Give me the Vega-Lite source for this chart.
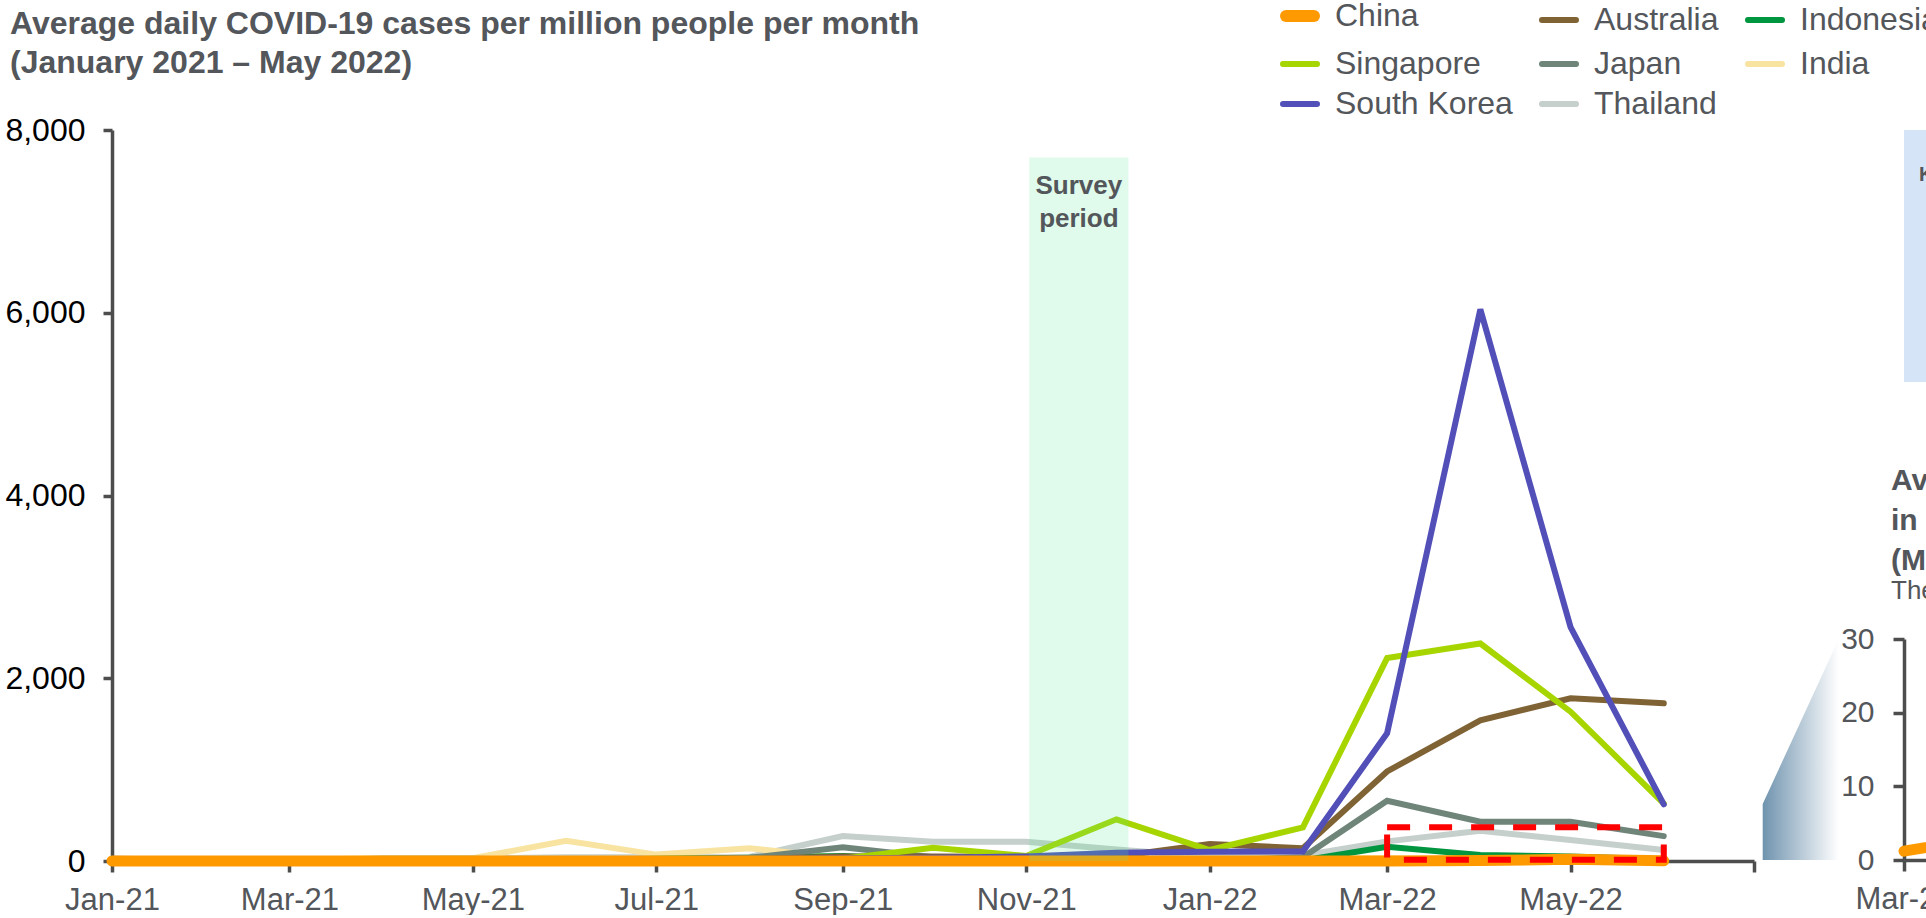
{
  "$schema": "https://vega.github.io/schema/vega-lite/v6.json",
  "background": "white",
  "padding": {"left": 4, "top": 0, "right": 0, "bottom": 0},
  "config": {
    "font": "Liberation Sans",
    "view": {"stroke": null},
    "axis": {"grid": false, "domainColor": "#4d4d4d", "tickColor": "#4d4d4d", "domainWidth": 3.5, "tickWidth": 3.5, "labelFont": "Liberation Sans", "title": null}
  },
  "datasets": {
    "cases": [
      {"country": "Thailand", "month": "2021-01-01", "cases": 5}, {"country": "Thailand", "month": "2021-02-01", "cases": 3}, {"country": "Thailand", "month": "2021-03-01", "cases": 3}, {"country": "Thailand", "month": "2021-04-01", "cases": 10}, {"country": "Thailand", "month": "2021-05-01", "cases": 30}, {"country": "Thailand", "month": "2021-06-01", "cases": 40}, {"country": "Thailand", "month": "2021-07-01", "cases": 40}, {"country": "Thailand", "month": "2021-08-01", "cases": 45}, {"country": "Thailand", "month": "2021-09-01", "cases": 273}, {"country": "Thailand", "month": "2021-10-01", "cases": 211}, {"country": "Thailand", "month": "2021-11-01", "cases": 211}, {"country": "Thailand", "month": "2021-12-01", "cases": 125}, {"country": "Thailand", "month": "2022-01-01", "cases": 50}, {"country": "Thailand", "month": "2022-02-01", "cases": 60}, {"country": "Thailand", "month": "2022-03-01", "cases": 215}, {"country": "Thailand", "month": "2022-04-01", "cases": 330}, {"country": "Thailand", "month": "2022-05-01", "cases": 230}, {"country": "Thailand", "month": "2022-06-01", "cases": 120},
      {"country": "India", "month": "2021-01-01", "cases": 10}, {"country": "India", "month": "2021-02-01", "cases": 10}, {"country": "India", "month": "2021-03-01", "cases": 15}, {"country": "India", "month": "2021-04-01", "cases": 30}, {"country": "India", "month": "2021-05-01", "cases": 30}, {"country": "India", "month": "2021-06-01", "cases": 220}, {"country": "India", "month": "2021-07-01", "cases": 70}, {"country": "India", "month": "2021-08-01", "cases": 139}, {"country": "India", "month": "2021-09-01", "cases": 30}, {"country": "India", "month": "2021-10-01", "cases": 15}, {"country": "India", "month": "2021-11-01", "cases": 10}, {"country": "India", "month": "2021-12-01", "cases": 8}, {"country": "India", "month": "2022-01-01", "cases": 10}, {"country": "India", "month": "2022-02-01", "cases": 30}, {"country": "India", "month": "2022-03-01", "cases": 30}, {"country": "India", "month": "2022-04-01", "cases": 5}, {"country": "India", "month": "2022-05-01", "cases": 2}, {"country": "India", "month": "2022-06-01", "cases": 2},
      {"country": "Indonesia", "month": "2021-01-01", "cases": 15}, {"country": "Indonesia", "month": "2021-02-01", "cases": 15}, {"country": "Indonesia", "month": "2021-03-01", "cases": 10}, {"country": "Indonesia", "month": "2021-04-01", "cases": 10}, {"country": "Indonesia", "month": "2021-05-01", "cases": 10}, {"country": "Indonesia", "month": "2021-06-01", "cases": 15}, {"country": "Indonesia", "month": "2021-07-01", "cases": 25}, {"country": "Indonesia", "month": "2021-08-01", "cases": 35}, {"country": "Indonesia", "month": "2021-09-01", "cases": 55}, {"country": "Indonesia", "month": "2021-10-01", "cases": 10}, {"country": "Indonesia", "month": "2021-11-01", "cases": 5}, {"country": "Indonesia", "month": "2021-12-01", "cases": 3}, {"country": "Indonesia", "month": "2022-01-01", "cases": 3}, {"country": "Indonesia", "month": "2022-02-01", "cases": 5}, {"country": "Indonesia", "month": "2022-03-01", "cases": 156}, {"country": "Indonesia", "month": "2022-04-01", "cases": 65}, {"country": "Indonesia", "month": "2022-05-01", "cases": 50}, {"country": "Indonesia", "month": "2022-06-01", "cases": 20},
      {"country": "Japan", "month": "2021-01-01", "cases": 25}, {"country": "Japan", "month": "2021-02-01", "cases": 15}, {"country": "Japan", "month": "2021-03-01", "cases": 10}, {"country": "Japan", "month": "2021-04-01", "cases": 25}, {"country": "Japan", "month": "2021-05-01", "cases": 25}, {"country": "Japan", "month": "2021-06-01", "cases": 10}, {"country": "Japan", "month": "2021-07-01", "cases": 15}, {"country": "Japan", "month": "2021-08-01", "cases": 35}, {"country": "Japan", "month": "2021-09-01", "cases": 150}, {"country": "Japan", "month": "2021-10-01", "cases": 40}, {"country": "Japan", "month": "2021-11-01", "cases": 10}, {"country": "Japan", "month": "2021-12-01", "cases": 2}, {"country": "Japan", "month": "2022-01-01", "cases": 2}, {"country": "Japan", "month": "2022-02-01", "cases": 40}, {"country": "Japan", "month": "2022-03-01", "cases": 659}, {"country": "Japan", "month": "2022-04-01", "cases": 430}, {"country": "Japan", "month": "2022-05-01", "cases": 430}, {"country": "Japan", "month": "2022-06-01", "cases": 272},
      {"country": "Australia", "month": "2021-01-01", "cases": 2}, {"country": "Australia", "month": "2021-02-01", "cases": 1}, {"country": "Australia", "month": "2021-03-01", "cases": 1}, {"country": "Australia", "month": "2021-04-01", "cases": 1}, {"country": "Australia", "month": "2021-05-01", "cases": 1}, {"country": "Australia", "month": "2021-06-01", "cases": 2}, {"country": "Australia", "month": "2021-07-01", "cases": 5}, {"country": "Australia", "month": "2021-08-01", "cases": 20}, {"country": "Australia", "month": "2021-09-01", "cases": 50}, {"country": "Australia", "month": "2021-10-01", "cases": 50}, {"country": "Australia", "month": "2021-11-01", "cases": 45}, {"country": "Australia", "month": "2021-12-01", "cases": 50}, {"country": "Australia", "month": "2022-01-01", "cases": 186}, {"country": "Australia", "month": "2022-02-01", "cases": 139}, {"country": "Australia", "month": "2022-03-01", "cases": 980}, {"country": "Australia", "month": "2022-04-01", "cases": 1540}, {"country": "Australia", "month": "2022-05-01", "cases": 1780}, {"country": "Australia", "month": "2022-06-01", "cases": 1726},
      {"country": "Singapore", "month": "2021-01-01", "cases": 5}, {"country": "Singapore", "month": "2021-02-01", "cases": 2}, {"country": "Singapore", "month": "2021-03-01", "cases": 1}, {"country": "Singapore", "month": "2021-04-01", "cases": 2}, {"country": "Singapore", "month": "2021-05-01", "cases": 3}, {"country": "Singapore", "month": "2021-06-01", "cases": 1}, {"country": "Singapore", "month": "2021-07-01", "cases": 5}, {"country": "Singapore", "month": "2021-08-01", "cases": 10}, {"country": "Singapore", "month": "2021-09-01", "cases": 25}, {"country": "Singapore", "month": "2021-10-01", "cases": 145}, {"country": "Singapore", "month": "2021-11-01", "cases": 55}, {"country": "Singapore", "month": "2021-12-01", "cases": 456}, {"country": "Singapore", "month": "2022-01-01", "cases": 120}, {"country": "Singapore", "month": "2022-02-01", "cases": 368}, {"country": "Singapore", "month": "2022-03-01", "cases": 2221}, {"country": "Singapore", "month": "2022-04-01", "cases": 2380}, {"country": "Singapore", "month": "2022-05-01", "cases": 1634}, {"country": "Singapore", "month": "2022-06-01", "cases": 629},
      {"country": "South Korea", "month": "2021-01-01", "cases": 5}, {"country": "South Korea", "month": "2021-02-01", "cases": 5}, {"country": "South Korea", "month": "2021-03-01", "cases": 5}, {"country": "South Korea", "month": "2021-04-01", "cases": 5}, {"country": "South Korea", "month": "2021-05-01", "cases": 5}, {"country": "South Korea", "month": "2021-06-01", "cases": 5}, {"country": "South Korea", "month": "2021-07-01", "cases": 10}, {"country": "South Korea", "month": "2021-08-01", "cases": 20}, {"country": "South Korea", "month": "2021-09-01", "cases": 30}, {"country": "South Korea", "month": "2021-10-01", "cases": 35}, {"country": "South Korea", "month": "2021-11-01", "cases": 50}, {"country": "South Korea", "month": "2021-12-01", "cases": 90}, {"country": "South Korea", "month": "2022-01-01", "cases": 100}, {"country": "South Korea", "month": "2022-02-01", "cases": 105}, {"country": "South Korea", "month": "2022-03-01", "cases": 1398}, {"country": "South Korea", "month": "2022-04-01", "cases": 6037}, {"country": "South Korea", "month": "2022-05-01", "cases": 2560}, {"country": "South Korea", "month": "2022-06-01", "cases": 620},
      {"country": "China", "month": "2021-01-01", "cases": 0.2}, {"country": "China", "month": "2021-02-01", "cases": 0.1}, {"country": "China", "month": "2021-03-01", "cases": 0}, {"country": "China", "month": "2021-04-01", "cases": 0}, {"country": "China", "month": "2021-05-01", "cases": 0}, {"country": "China", "month": "2021-06-01", "cases": 0}, {"country": "China", "month": "2021-07-01", "cases": 0}, {"country": "China", "month": "2021-08-01", "cases": 0.1}, {"country": "China", "month": "2021-09-01", "cases": 0.1}, {"country": "China", "month": "2021-10-01", "cases": 0}, {"country": "China", "month": "2021-11-01", "cases": 0.1}, {"country": "China", "month": "2021-12-01", "cases": 0.1}, {"country": "China", "month": "2022-01-01", "cases": 0.1}, {"country": "China", "month": "2022-02-01", "cases": 0.1}, {"country": "China", "month": "2022-03-01", "cases": 1.2}, {"country": "China", "month": "2022-04-01", "cases": 5}, {"country": "China", "month": "2022-05-01", "cases": 18}, {"country": "China", "month": "2022-06-01", "cases": 3}
    ],
    "survey": [{"label": "Survey period", "start": "2021-11-02", "end": "2021-12-05"}],
    "zoombox": [{"region": "China detail", "start": "2022-03-01", "end": "2022-06-01"}],
    "connector": [{"date": "2022-02-03", "upper": 7.6, "lower": 0}, {"date": "2022-02-17", "upper": 30, "lower": 0}],
    "note": [{"text": "Key takeaway"}]
  },
  "bounds": "flush",
  "spacing": 150,
  "hconcat": [
    {
      "width": 1642,
      "height": 731,
      "title": {"text": ["Average daily COVID-19 cases per million people per month", "(January 2021 – May 2022)"], "anchor": "start", "frame": "group", "dx": -102, "fontSize": 32, "fontWeight": "bold", "color": "#53565a", "lineHeight": 39, "offset": 34, "font": "Liberation Sans"},
      "layer": [
        {
          "data": {"name": "cases"},
          "transform": [{"filter": "datum.country !== 'China'"}],
          "mark": {"type": "line", "strokeWidth": 6, "strokeCap": "round"},
          "encoding": {
            "x": {"field": "month", "type": "temporal",
              "scale": {"type": "utc", "domain": [{"year": 2021, "month": 1, "date": 1, "utc": true}, {"year": 2022, "month": 7, "date": 1, "utc": true}]},
              "axis": {"values": [{"year": 2021, "month": 1, "date": 1, "utc": true}, {"year": 2021, "month": 3, "date": 1, "utc": true}, {"year": 2021, "month": 5, "date": 1, "utc": true}, {"year": 2021, "month": 7, "date": 1, "utc": true}, {"year": 2021, "month": 9, "date": 1, "utc": true}, {"year": 2021, "month": 11, "date": 1, "utc": true}, {"year": 2022, "month": 1, "date": 1, "utc": true}, {"year": 2022, "month": 3, "date": 1, "utc": true}, {"year": 2022, "month": 5, "date": 1, "utc": true}, {"year": 2022, "month": 7, "date": 1, "utc": true}],
                "labelExpr": "datum.value >= utc(2022, 5, 15) ? '' : utcFormat(datum.value, '%b-%y')",
                "labelFontSize": 31, "labelColor": "#53565a", "tickSize": 11, "labelPadding": 13, "labelFlush": false, "labelOverlap": false}
            },
            "y": {"field": "cases", "type": "quantitative", "scale": {"domain": [0, 8000], "nice": false},
              "axis": {"values": [0, 2000, 4000, 6000, 8000], "format": ",d", "labelFontSize": 32, "labelColor": "#000000", "tickSize": 9, "labelPadding": 18}
            },
            "color": {"field": "country", "type": "nominal",
              "scale": {"domain": ["China", "Singapore", "South Korea", "Australia", "Japan", "Thailand", "Indonesia", "India"], "range": ["#FF9900", "#A7D500", "#5250B8", "#7F6334", "#6F857A", "#C5CFCB", "#00963F", "#F8E3A0"]},
              "legend": {"title": null, "orient": "none", "legendX": 1172, "legendY": -130, "columns": 3, "labelFontSize": 32, "labelColor": "#53565a", "labelFont": "Liberation Sans", "symbolType": "stroke", "symbolSize": 1156, "symbolStrokeWidth": 6, "columnPadding": 17, "rowPadding": 8, "labelOffset": 19, "labelLimit": 400,
                "encode": {"symbols": {"update": {"strokeWidth": {"signal": "datum.value === 'China' ? 12 : 6"}, "size": {"signal": "datum.value === 'China' ? 784 : 1156"}, "strokeCap": {"value": "round"}}}}}
            }
          }
        },
        {
          "data": {"name": "cases"},
          "transform": [{"filter": "datum.country === 'China'"}],
          "mark": {"type": "line", "strokeWidth": 11, "strokeCap": "round"},
          "encoding": {
            "x": {"field": "month", "type": "temporal"},
            "y": {"field": "cases", "type": "quantitative"},
            "color": {"field": "country", "type": "nominal"}
          }
        },
        {
          "data": {"name": "zoombox"},
          "mark": {"type": "rect", "filled": false, "color": "#FF0000", "strokeWidth": 6, "strokeDash": [23, 19]},
          "encoding": {
            "x": {"field": "start", "type": "temporal"},
            "x2": {"field": "end"},
            "y": {"datum": 370},
            "y2": {"datum": 15}
          }
        },
        {
          "data": {"name": "survey"},
          "mark": {"type": "rect", "fill": "#5AEB95", "opacity": 0.19},
          "encoding": {
            "x": {"field": "start", "type": "temporal"},
            "x2": {"field": "end"},
            "y": {"datum": 7700},
            "y2": {"datum": 0}
          }
        },
        {
          "data": {"name": "survey"},
          "mark": {"type": "text", "lineBreak": " ", "fontSize": 26, "fontWeight": "bold", "color": "#53565a", "lineHeight": 33, "baseline": "middle", "align": "center"},
          "encoding": {
            "x": {"datum": {"year": 2021, "month": 11, "date": 18, "hours": 12, "utc": true}},
            "y": {"datum": 7383},
            "text": {"field": "label"}
          }
        }
      ]
    },
    {
      "bounds": "flush",
      "spacing": 257,
      "vconcat": [
        {
          "width": 300,
          "height": 252,
          "view": {"fill": "#D6E4F7", "stroke": null},
          "data": {"name": "note"},
          "mark": {"type": "text", "align": "left", "baseline": "middle", "fontSize": 20, "fontWeight": "bold", "color": "#53565a", "dx": 15, "dy": 45},
          "encoding": {
            "x": {"datum": 0, "type": "quantitative", "scale": {"domain": [0, 1]}, "axis": null},
            "y": {"datum": 1, "type": "quantitative", "scale": {"domain": [0, 1]}, "axis": null},
            "text": {"field": "text"}
          }
        },
        {
          "width": 500,
          "height": 221,
          "title": {"text": ["Average daily COVID-19 cases per million people", "in China", "(March – May 2022)"], "subtitle": "The red box above, shown on its own scale", "anchor": "start", "frame": "group", "dx": -13, "fontSize": 30, "fontWeight": "bold", "lineHeight": 40, "color": "#53565a", "subtitleFontSize": 26, "subtitleColor": "#53565a", "subtitlePadding": 2, "offset": 20, "font": "Liberation Sans", "subtitleFont": "Liberation Sans"},
          "layer": [
            {
              "data": {"name": "connector"},
              "mark": {"type": "area", "color": {"x1": 0, "y1": 0, "x2": 1, "y2": 0, "gradient": "linear", "stops": [{"offset": 0, "color": "#6F93AE"}, {"offset": 1, "color": "#FFFFFF"}]}},
              "encoding": {
                "x": {"field": "date", "type": "temporal"},
                "y": {"field": "upper", "type": "quantitative"},
                "y2": {"field": "lower"}
              }
            },
            {
              "data": {"name": "cases"},
              "transform": [{"filter": "datum.country === 'China' && time(datum.month) >= utc(2022, 2, 1)"}],
              "mark": {"type": "line", "strokeWidth": 11, "strokeCap": "round", "color": "#FF9900"},
              "encoding": {
                "x": {"field": "month", "type": "temporal",
                  "scale": {"type": "utc", "domain": [{"year": 2022, "month": 3, "date": 1, "utc": true}, {"year": 2022, "month": 6, "date": 1, "utc": true}]},
                  "axis": {"values": [{"year": 2022, "month": 3, "date": 1, "utc": true}, {"year": 2022, "month": 4, "date": 1, "utc": true}, {"year": 2022, "month": 5, "date": 1, "utc": true}], "labelExpr": "utcFormat(datum.value, '%b-%y')", "labelFontSize": 31, "labelColor": "#53565a", "tickSize": 11, "labelPadding": 13, "labelFlush": false}
                },
                "y": {"field": "cases", "type": "quantitative", "scale": {"domain": [0, 30], "nice": false},
                  "axis": {"values": [0, 10, 20, 30], "labelFontSize": 30, "labelColor": "#53565a", "tickSize": 11, "labelPadding": 19}
                }
              }
            }
          ]
        }
      ]
    }
  ]
}
